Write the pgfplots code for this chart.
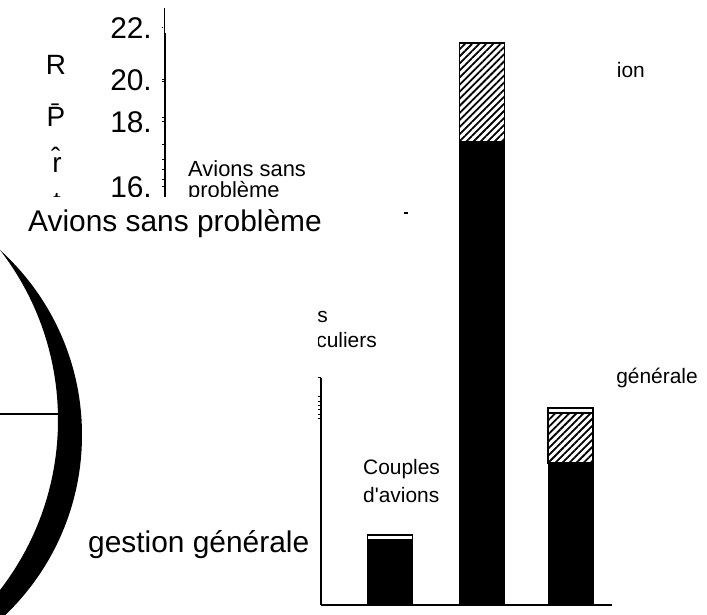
\documentclass[border=0pt]{standalone}
\usepackage{fontspec}
\setmainfont{Liberation Sans}
\usepackage{pgfplots}
\pgfplotsset{compat=1.18}
\usetikzlibrary{patterns.meta}

\newcommand{\smalltxt}{\fontsize{21}{21}\selectfont}
\newcommand{\bigtxt}{\fontsize{30}{30}\selectfont}

\begin{document}
\begin{tikzpicture}
\path[use as bounding box] (0,0) rectangle (707bp,615bp);
\clip (0,0) rectangle (707bp,615bp);

% fragment of the upper-left axis, cut off below
\begin{scope}
\clip (0,418bp) rectangle (707bp,615bp);
\begin{axis}[
    at={(165bp,418bp)}, anchor=south west,
    width=10bp, height=189bp, scale only axis,
    axis x line=none, axis y line=left,
    axis line style={-, black, line width=2bp},
    xmin=0, xmax=1, ymin=418, ymax=607,
    ytick={428,493,535,587},
    yticklabels={\textnormal{16.},\textnormal{18.},\textnormal{20.},\textnormal{22.}},
    extra y ticks={533,497,470,455,445,435},
    extra y tick labels={},
    tick align=outside, major tick length=3bp,
    tick style={black, line width=1bp},
    yticklabel style={font=\bigtxt, inner sep=0pt, xshift=-10bp},
]
\end{axis}
\fill[white] (162.5bp,582bp) rectangle (168bp,609bp);
\draw[line width=1bp] (164bp,607bp) -- (164bp,581bp);
\node[anchor=base, font=\fontsize{28}{28}\selectfont, inner sep=0] at (56bp,540bp) {R};
\node[anchor=base, font=\fontsize{28}{28}\selectfont, inner sep=0] at (56bp,488bp) {\={P}};
\node[anchor=base, font=\fontsize{28}{28}\selectfont, inner sep=0] at (57bp,442bp) {\^{r}};
\node[anchor=base, font=\fontsize{28}{28}\selectfont, inner sep=0] at (57bp,403bp) {t};
\node[anchor=base west, font=\fontsize{22}{22}\selectfont, inner sep=0] at (188bp,438bp) {Avions sans};
\node[anchor=base west, font=\fontsize{22}{22}\selectfont, inner sep=0] at (188bp,417bp) {problème};
\end{scope}

\node[anchor=base west, font=\bigtxt, inner sep=0] at (28bp,383bp) {Avions sans problème};
\node[anchor=base west, font=\bigtxt, inner sep=0] at (88bp,62bp) {gestion générale};

% pie chart edge
\fill[even odd rule] (-167.7bp,180bp) circle[radius=249.7bp] (-220bp,195bp) circle[radius=278bp];
\draw[line width=2bp] (0,201bp) -- (58bp,201bp);
\draw[line width=1.5bp] (404bp,402bp) -- (408bp,402bp);

% labels cut on the right
\begin{scope}
\clip (617bp,0) rectangle (707bp,615bp);
\node[anchor=base east, font=\smalltxt, inner sep=0] at (645bp,537bp) {gestion};
\node[anchor=base east, font=\smalltxt, inner sep=0] at (698bp,231bp) {gestion générale};
\end{scope}

% labels cut on the left
\begin{scope}
\clip (318bp,0) rectangle (707bp,615bp);
\node[anchor=base east, font=\smalltxt, inner sep=0] at (328bp,292bp) {Avions};
\node[anchor=base east, font=\smalltxt, inner sep=0] at (377bp,267bp) {particuliers};
\end{scope}

\node[anchor=base west, font=\smalltxt, inner sep=0] at (363bp,140bp) {Couples};
\node[anchor=base west, font=\smalltxt, inner sep=0] at (363bp,112bp) {d\textquotesingle avions};

% stacked bars
\begin{axis}[
    at={(321bp,10bp)}, anchor=south west,
    width=291bp, height=227bp, scale only axis,
    xmin=0.2333, xmax=3.4667, ymin=0, ymax=22.7,
    axis x line=bottom, axis y line=left,
    axis line style={-, black, line width=1.6bp},
    x axis line style={line width=2.5bp},
    xtick=\empty,
    ytick={18.6,19.0,19.5,19.9,20.3,20.8,22.7}, yticklabels={},
    tick align=outside, major tick length=3bp,
    tick style={black, line width=1bp},
    ybar stacked, bar width=45bp, clip=false,
]
\addplot[fill=black, draw=black] coordinates {(1,6.5) (2.0222,46.3) (3.0056,14.2)};
\addplot[pattern={Lines[angle=45,distance=5bp,line width=1.8bp]}, draw=black, line width=1.2bp]
    coordinates {(1,0) (2.0222,9.9) (3.0056,5.0)};
\addplot[fill=white, draw=black, line width=1.2bp] coordinates {(1,0.5) (2.0222,0) (3.0056,0.5)};
\end{axis}
\end{tikzpicture}
\end{document}
